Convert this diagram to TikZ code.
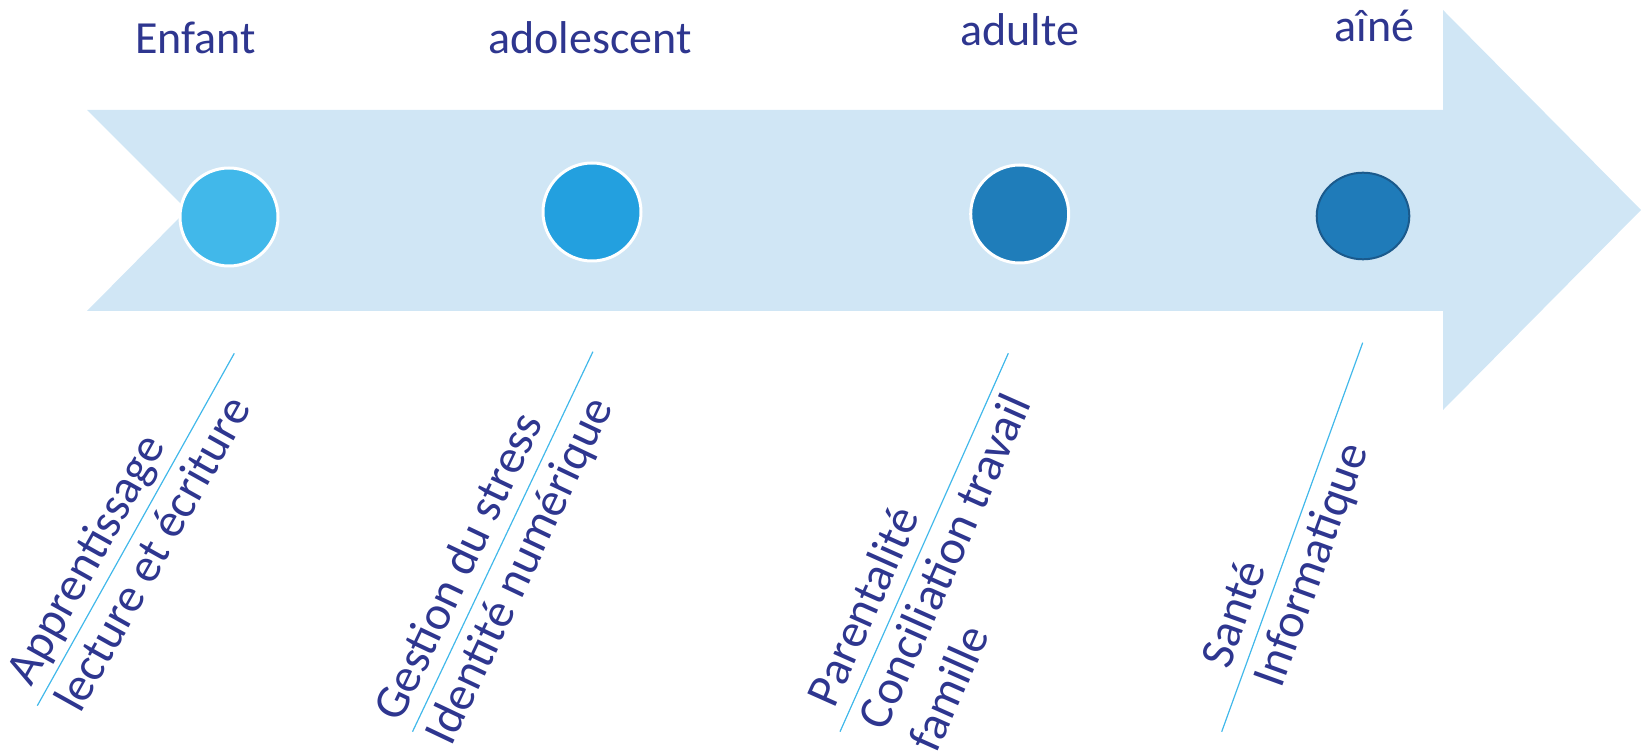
\documentclass[tikz,border=0pt]{standalone}
\usepackage{fontspec}
\setmainfont{Carlito}
\usetikzlibrary{shapes.geometric}
\definecolor{bandblue}{RGB}{208,230,245}
\definecolor{kidblue}{RGB}{65,184,234}
\definecolor{teenblue}{RGB}{35,160,223}
\definecolor{adultblue}{RGB}{31,125,186}
\definecolor{elderblue}{RGB}{31,123,185}
\definecolor{elderrim}{RGB}{27,90,140}
\definecolor{labelblue}{RGB}{46,54,143}
\definecolor{ruleblue}{RGB}{65,184,234}
\begin{document}
\begin{tikzpicture}[x=1pt,y=1pt,
  stage/.style={circle,minimum size=98pt,inner sep=0pt,draw=white,line width=3pt},
  title/.style={text=labelblue,inner sep=0pt,anchor=base,font=\fontsize{46}{55}\selectfont},
  topic/.style={text=labelblue,inner sep=0pt,anchor=base west,transform shape,font=\fontsize{48}{56}\selectfont},
  rule/.style={ruleblue,line width=1.2pt}]
  \useasboundingbox (0,0) rectangle (1641,755);
  % the band with its notch and head
  \fill[bandblue] (87,645) -- (1443,645) -- (1443,745) -- (1641,545) -- (1443,345)
    -- (1443,444) -- (87,444) -- (187,545) -- cycle;
  \node[stage,fill=kidblue] (kid) at (229,538) {};
  \node[stage,fill=teenblue] (teen) at (592,543) {};
  \node[stage,fill=adultblue] (grown) at (1019.7,541) {};
  \node[ellipse,minimum width=92.6pt,minimum height=86.6pt,inner sep=0pt,
    fill=elderblue,draw=elderrim,line width=2pt] (elder) at (1363,539) {};
  \node[title] (enfant) at (195.5,701.7) {Enfant};
  \node[title] (ado) at (590,701.7) {adolescent};
  \node[title] (adulte) at (1020,709) {adulte};
  \node[title] (aine) at (1374.5,713.3) {aîné};
  % slanted topics
  \coordinate (b1) at (37.3,49.3);
  \coordinate (t1) at (234.3,401.7);
  \draw[rule] (b1) -- (t1);
  \begin{scope}[shift={(b1)},rotate=60.8]
    \node[topic] (appr) at (13,14) {Apprentissage};
    \node[topic] (lect) at (13,-42) {lecture et écriture};
  \end{scope}
  \coordinate (b2) at (412.5,23.3);
  \coordinate (t2) at (592.9,403.3);
  \draw[rule] (b2) -- (t2);
  \begin{scope}[shift={(b2)},rotate=64.6]
    \node[topic] (stress) at (2,14) {Gestion du stress};
    \node[topic] (ident) at (2,-42) {Identité numérique};
  \end{scope}
  \coordinate (b3) at (840,23.3);
  \coordinate (t3) at (1008.3,401.7);
  \draw[rule] (b3) -- (t3);
  \begin{scope}[shift={(b3)},rotate=66.0]
    \node[topic] (parent) at (18,14) {Parentalité};
    \node[topic] (concil) at (18,-42) {Conciliation travail};
    \node[topic] (famil) at (18,-98) {famille};
  \end{scope}
  \coordinate (b4) at (1221.7,23.3);
  \coordinate (t4) at (1362.7,412.3);
  \draw[rule] (b4) -- (t4);
  \begin{scope}[shift={(b4)},rotate=70.1]
    \node[topic] (sante) at (60,14) {Santé};
    \node[topic] (info) at (60,-42) {Informatique};
  \end{scope}
\end{tikzpicture}
\end{document}
